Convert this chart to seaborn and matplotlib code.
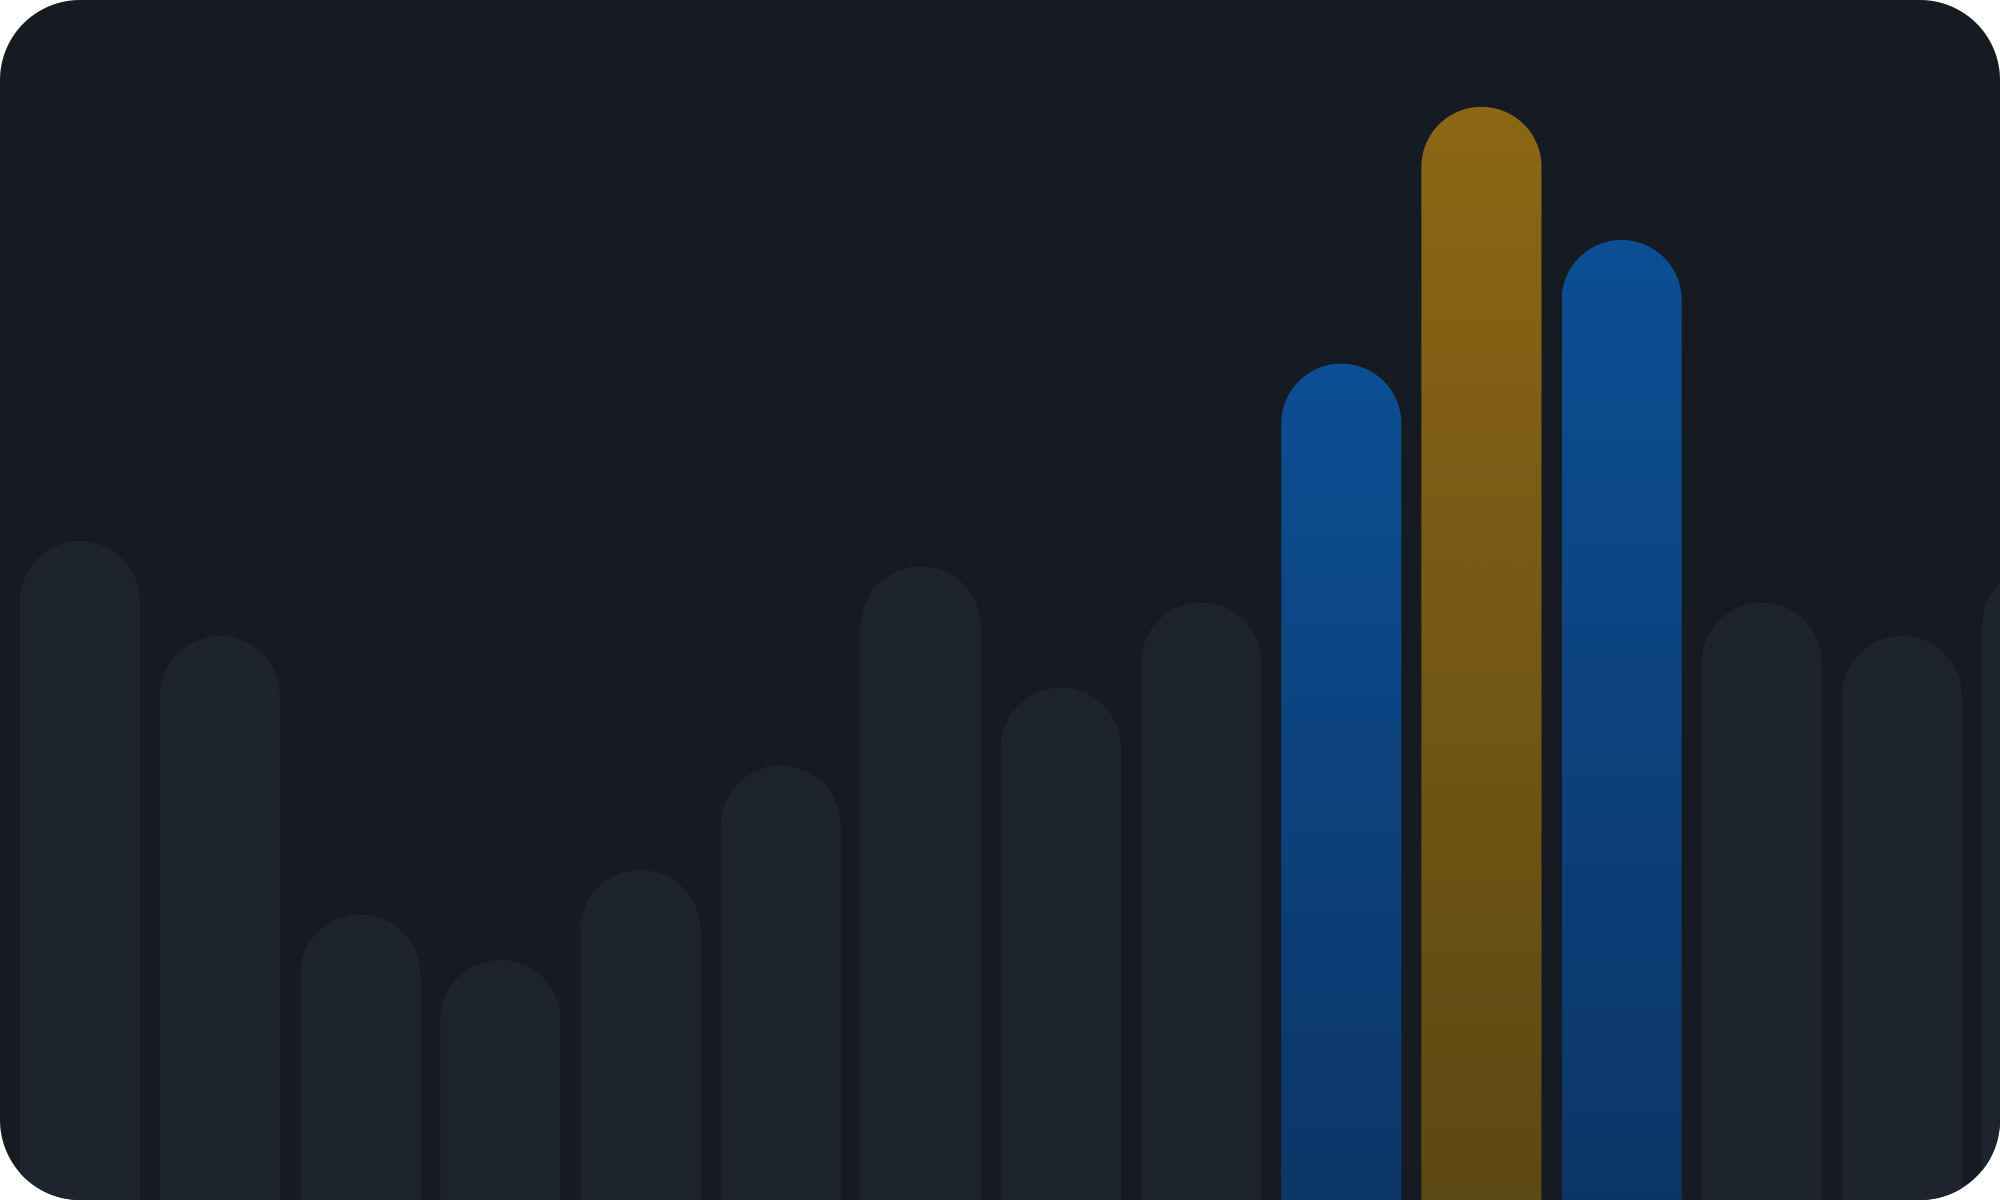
import numpy as np
import matplotlib
matplotlib.use("Agg")
import matplotlib.pyplot as plt
import seaborn as sns
from matplotlib.patches import Polygon, PathPatch
from matplotlib.path import Path
from matplotlib.colors import LinearSegmentedColormap

# Data
categories = [f"C{i + 1}" for i in range(15)]
values = [54.9, 47.0, 23.8, 20.0, 27.5, 36.2, 52.8, 42.7, 49.8, 69.7, 91.1, 80.0, 49.8, 47.0, 52.9]
highlight = {9: "blue", 10: "gold", 11: "blue"}

# Colours
bg = "#161b22"
bar_grey = "#1e242d"
grads = {"blue": ("#0c3566", "#0d4f94"), "gold": ("#5c4813", "#8c6816")}

sns.set_theme(style="white")
fig = plt.figure(figsize=(20, 12), dpi=100, facecolor="white")


def rounded_rect(w, h, r, n=40):
    pts = []
    for cx, cy, a0 in [(w - r, r, -90), (w - r, h - r, 0), (r, h - r, 90), (r, r, 180)]:
        t = np.radians(np.linspace(a0, a0 + 90, n))
        pts.append(np.column_stack([cx + r * np.cos(t), cy + r * np.sin(t)]))
    return np.vstack(pts)


# card background with circular corners (inches)
card = Polygon(rounded_rect(20, 12, 0.80), closed=True, transform=fig.dpi_scale_trans,
               facecolor=bg, edgecolor="none", zorder=-5)
fig.add_artist(card)

ax = fig.add_axes([0, 0, 1, 1])
ax.set_facecolor("none")
sns.barplot(x=categories, y=values, width=0.857, color=bar_grey, saturation=1, ax=ax)
xlim = (-0.57, 13.70)
ax.set_xlim(*xlim)
ax.set_ylim(0, 100)
ax.axis("off")

# radius of the round cap, in data units on each axis
px_x = 2000 / (xlim[1] - xlim[0])
px_y = 1200 / 100


def capsule(x0, w, top, bottom=-3):
    rx = w / 2
    ry = rx * px_x / px_y
    cx, cy = x0 + rx, top - ry
    t = np.linspace(0, np.pi, 80)
    arc = np.column_stack([cx + rx * np.cos(t), cy + ry * np.sin(t)])
    verts = np.vstack([[x0 + w, bottom], arc, [x0, bottom], [x0 + w, bottom]])
    codes = [Path.MOVETO] + [Path.LINETO] * (len(verts) - 2) + [Path.CLOSEPOLY]
    return Path(verts, codes)


for i, p in enumerate(list(ax.patches)):
    x0, w, h = p.get_x(), p.get_width(), p.get_height()
    p.remove()
    path = capsule(x0, w, h)
    if i in highlight:
        lo, hi = grads[highlight[i]]
        cmap = LinearSegmentedColormap.from_list("g", [lo, hi])
        clip = PathPatch(path, transform=ax.transData, facecolor="none", edgecolor="none")
        ax.add_patch(clip)
        im = ax.imshow(np.linspace(0, 1, 256).reshape(-1, 1), cmap=cmap, origin="lower",
                       extent=[x0, x0 + w, -3, h], aspect="auto", interpolation="bicubic")
        im.set_clip_path(clip)
    else:
        bar = PathPatch(path, facecolor=bar_grey, edgecolor="none")
        ax.add_patch(bar)
        bar.set_clip_path(card)

ax.set_xlim(*xlim)
ax.set_ylim(0, 100)

fig.savefig("out.png", dpi=100, facecolor="white")
